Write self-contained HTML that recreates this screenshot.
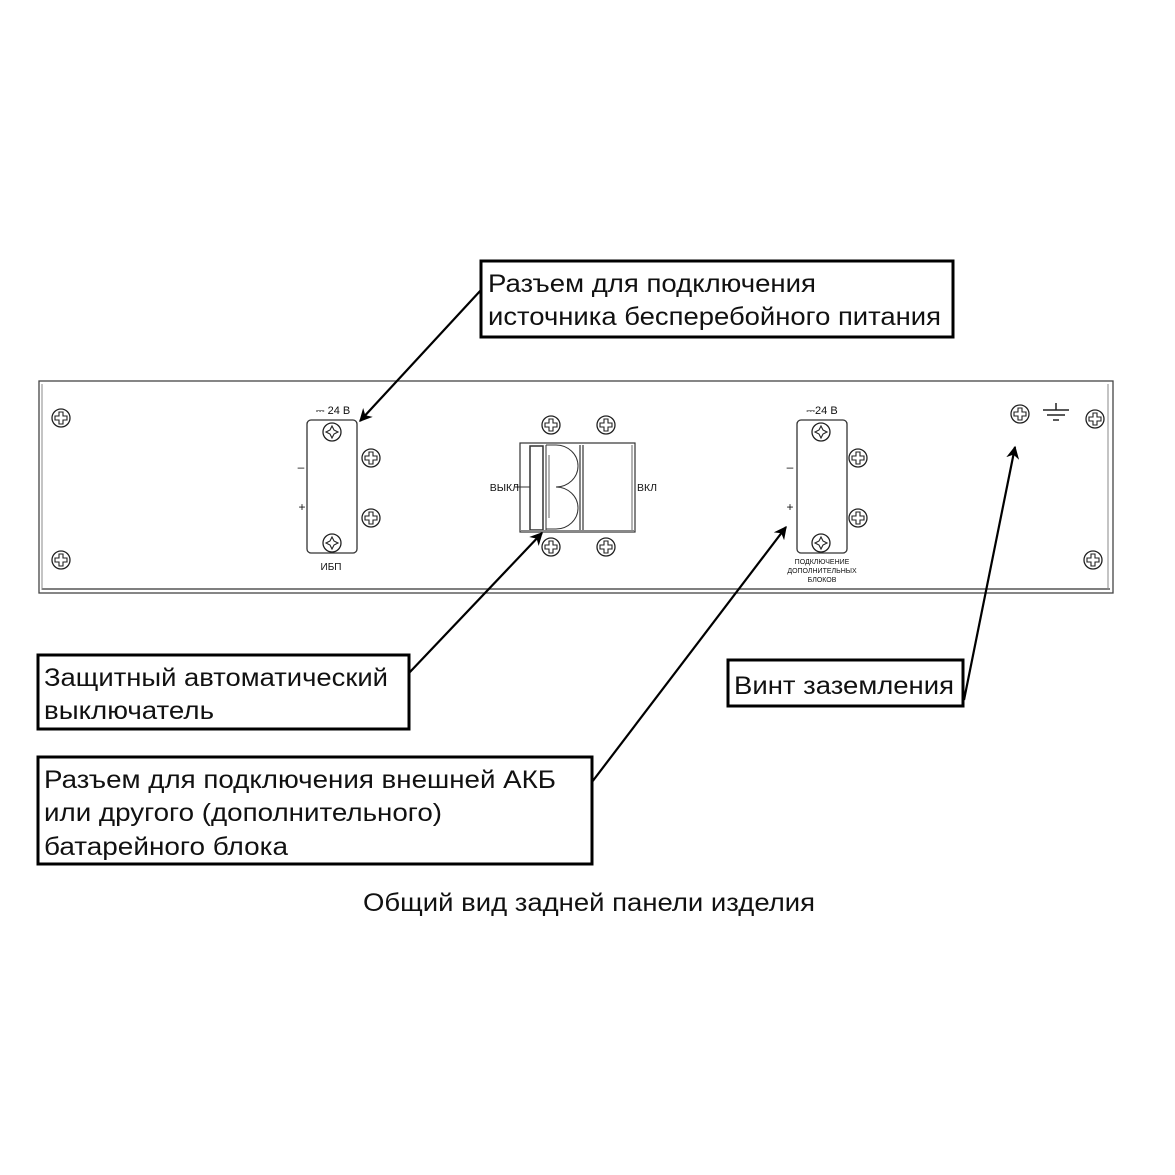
<!DOCTYPE html>
<html><head><meta charset="utf-8"><style>
html,body{margin:0;padding:0;background:#fff;}
svg{display:block;}
text{font-family:"Liberation Sans",sans-serif;fill:#111;}
</style></head><body>
<svg width="1175" height="1175" viewBox="0 0 1175 1175" xmlns="http://www.w3.org/2000/svg">
<defs>
<g id="sc"><circle r="9" fill="#fff" stroke="#222" stroke-width="1.3"/><path d="M-2,-6 h4 v4 h4 v4 h-4 v4 h-4 v-4 h-4 v-4 h4 z" fill="none" stroke="#222" stroke-width="1.1"/></g>
<g id="sc2"><circle r="9" fill="#fff" stroke="#222" stroke-width="1.3"/><path d="M0,-6 L2,-2 L6,0 L2,2 L0,6 L-2,2 L-6,0 L-2,-2 z" fill="none" stroke="#222" stroke-width="1.1"/></g>
<marker id="ar" viewBox="0 0 10 10" refX="9" refY="5" markerWidth="22" markerHeight="13" markerUnits="userSpaceOnUse" orient="auto"><path d="M0,0 L10,5 L0,10 L3,5 z" fill="#000"/></marker>
</defs>
<!-- panel -->
<rect x="39" y="381" width="1074" height="212" fill="#fff" stroke="#444" stroke-width="1.3"/>
<line x1="42" y1="589" x2="1110" y2="589" stroke="#555" stroke-width="1.5"/>
<line x1="1108" y1="384" x2="1108" y2="590" stroke="#888" stroke-width="1"/>
<line x1="42" y1="384" x2="42" y2="590" stroke="#888" stroke-width="1"/>
<use href="#sc" x="61" y="418"/><use href="#sc" x="61" y="560"/>
<use href="#sc" x="1095" y="419"/><use href="#sc" x="1093" y="560"/>
<!-- UPS connector -->
<rect x="307" y="420" width="50" height="133" rx="4" fill="#fff" stroke="#333" stroke-width="1.3"/>
<use href="#sc2" x="332" y="432"/><use href="#sc2" x="332" y="543"/>
<use href="#sc" x="371" y="458"/><use href="#sc" x="371" y="518"/>
<text x="333" y="414" font-size="11" text-anchor="middle">⎓ 24 В</text>
<text x="301" y="471" font-size="12" text-anchor="middle">–</text>
<text x="302" y="511" font-size="12" text-anchor="middle">+</text>
<text x="331" y="570" font-size="10" text-anchor="middle">ИБП</text>
<!-- breaker -->
<rect x="520" y="443" width="115" height="89" fill="#fff" stroke="#333" stroke-width="1.2"/>
<rect x="530" y="446" width="13" height="84" fill="#fff" stroke="#333" stroke-width="1.5"/>
<line x1="546" y1="445" x2="546" y2="530" stroke="#333"/>
<path d="M546,445 h10 a22,21 0 0 1 0,42 a22,21 0 0 1 0,42 h-10" fill="none" stroke="#333"/>
<line x1="549" y1="455" x2="549" y2="518" stroke="#666"/>
<line x1="580" y1="445" x2="580" y2="530" stroke="#333" stroke-width="1.2"/>
<line x1="583" y1="445" x2="583" y2="530" stroke="#333" stroke-width="1.2"/>
<line x1="632" y1="445" x2="632" y2="530" stroke="#666"/>
<line x1="521" y1="531" x2="634" y2="531" stroke="#888" stroke-width="2"/>
<line x1="515" y1="487" x2="530" y2="487" stroke="#333"/>
<use href="#sc" x="551" y="425"/><use href="#sc" x="606" y="425"/>
<use href="#sc" x="551" y="547"/><use href="#sc" x="606" y="547"/>
<text x="519" y="491" font-size="10.5" text-anchor="end">ВЫКЛ</text>
<text x="637" y="491" font-size="10.5">ВКЛ</text>
<!-- second connector -->
<rect x="797" y="420" width="50" height="133" rx="4" fill="#fff" stroke="#333" stroke-width="1.3"/>
<use href="#sc2" x="821" y="432"/><use href="#sc2" x="821" y="543"/>
<use href="#sc" x="858" y="458"/><use href="#sc" x="858" y="518"/>
<text x="822" y="414" font-size="11" text-anchor="middle">⎓24 В</text>
<text x="790" y="471" font-size="12" text-anchor="middle">–</text>
<text x="790" y="511" font-size="12" text-anchor="middle">+</text>
<text x="822" y="564" font-size="7" text-anchor="middle">ПОДКЛЮЧЕНИЕ</text>
<text x="822" y="573" font-size="7" text-anchor="middle">ДОПОЛНИТЕЛЬНЫХ</text>
<text x="822" y="582" font-size="7" text-anchor="middle">БЛОКОВ</text>
<!-- ground -->
<use href="#sc" x="1020" y="414"/>
<line x1="1043" y1="410" x2="1069" y2="410" stroke="#222" stroke-width="1.5"/>
<line x1="1056" y1="403" x2="1056" y2="410" stroke="#222" stroke-width="1.5"/>
<line x1="1047" y1="415" x2="1065" y2="415" stroke="#222" stroke-width="1.5"/>
<line x1="1053" y1="420" x2="1059" y2="420" stroke="#222" stroke-width="1.5"/>
<!-- boxes -->
<g fill="#fff" stroke="#000" stroke-width="3">
<rect x="481" y="261" width="472" height="76"/>
<rect x="38" y="655" width="371" height="74"/>
<rect x="38" y="757" width="554" height="107"/>
<rect x="728" y="660" width="235" height="46"/>
</g>
<g font-size="25" lengthAdjust="spacingAndGlyphs">
<text x="488" y="292" textLength="328" lengthAdjust="spacingAndGlyphs">Разъем для подключения</text>
<text x="488" y="325" textLength="453" lengthAdjust="spacingAndGlyphs">источника бесперебойного питания</text>
<text x="44" y="686" textLength="344" lengthAdjust="spacingAndGlyphs">Защитный автоматический</text>
<text x="44" y="719" textLength="170" lengthAdjust="spacingAndGlyphs">выключатель</text>
<text x="44" y="788" textLength="512" lengthAdjust="spacingAndGlyphs">Разъем для подключения внешней АКБ</text>
<text x="44" y="821" textLength="398" lengthAdjust="spacingAndGlyphs">или другого (дополнительного)</text>
<text x="44" y="855" textLength="244" lengthAdjust="spacingAndGlyphs">батарейного блока</text>
<text x="734" y="694" textLength="220" lengthAdjust="spacingAndGlyphs">Винт заземления</text>
<text x="363" y="911" textLength="452" lengthAdjust="spacingAndGlyphs">Общий вид задней панели изделия</text>
</g>
<!-- arrows -->
<g stroke="#000" stroke-width="2.2" fill="none" marker-end="url(#ar)">
<line x1="481" y1="290" x2="360" y2="421"/>
<line x1="409" y1="673" x2="542" y2="533"/>
<line x1="592" y1="782" x2="786" y2="527"/>
<line x1="964" y1="700" x2="1015" y2="447"/>
</g>
</svg>
</body></html>
